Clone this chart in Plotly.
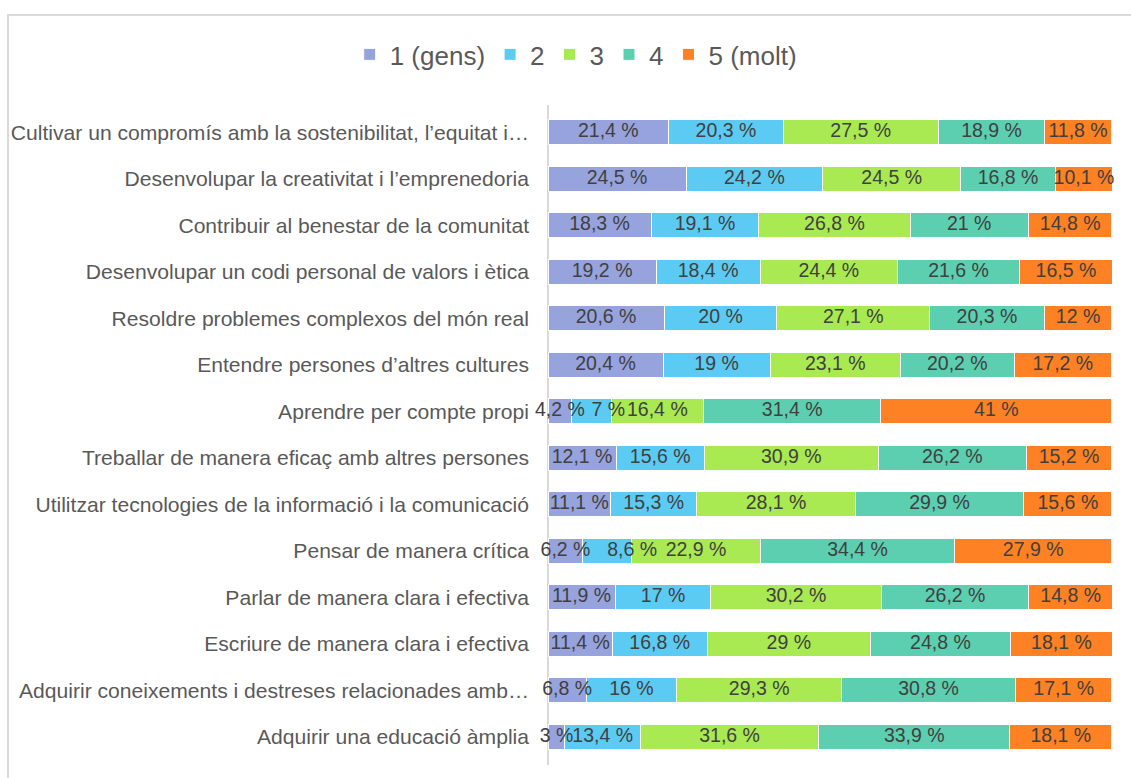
import plotly.graph_objects as go

categories = [
    "Cultivar un compromís amb la sostenibilitat, l’equitat i…",
    "Desenvolupar la creativitat i l’emprenedoria",
    "Contribuir al benestar de la comunitat",
    "Desenvolupar un codi personal de valors i ètica",
    "Resoldre problemes complexos del món real",
    "Entendre persones d’altres cultures",
    "Aprendre per compte propi",
    "Treballar de manera eficaç amb altres persones",
    "Utilitzar tecnologies de la informació i la comunicació",
    "Pensar de manera crítica",
    "Parlar de manera clara i efectiva",
    "Escriure de manera clara i efectiva",
    "Adquirir coneixements i destreses relacionades amb…",
    "Adquirir una educació àmplia",
]

series_names = ["1 (gens)", "2", "3", "4", "5 (molt)"]

s1 = [21.4, 24.5, 18.3, 19.2, 20.6, 20.4, 4.2, 12.1, 11.1, 6.2, 11.9, 11.4, 6.8, 3]
s2 = [20.3, 24.2, 19.1, 18.4, 20, 19, 7, 15.6, 15.3, 8.6, 17, 16.8, 16, 13.4]
s3 = [27.5, 24.5, 26.8, 24.4, 27.1, 23.1, 16.4, 30.9, 28.1, 22.9, 30.2, 29, 29.3, 31.6]
s4 = [18.9, 16.8, 21, 21.6, 20.3, 20.2, 31.4, 26.2, 29.9, 34.4, 26.2, 24.8, 30.8, 33.9]
s5 = [11.8, 10.1, 14.8, 16.5, 12, 17.2, 41, 15.2, 15.6, 27.9, 14.8, 18.1, 17.1, 18.1]

colors = ["#97A3DD", "#5CCBF3", "#A9E951", "#5CCFB0", "#FE8123"]


def fmt(v):
    s = ("%.1f" % v).rstrip("0").rstrip(".")
    return s.replace(".", ",") + " %"


all_series = [s1, s2, s3, s4, s5]

fig = go.Figure()
for name, vals, col in zip(series_names, all_series, colors):
    fig.add_trace(go.Bar(
        name=name,
        y=categories,
        x=vals,
        orientation="h",
        marker=dict(color=col, line=dict(color="white", width=1)),
        hoverinfo="skip",
    ))

# data labels drawn on top of all bars (as in the original), at segment centres
lab_x, lab_y, lab_t, lab_pos = [], [], [], []
for r, cat in enumerate(categories):
    start = 0.0
    prev = None
    for k, vals in enumerate(all_series):
        v = vals[r]
        lab_x.append(start + v / 2)
        lab_y.append(cat)
        lab_t.append(fmt(v))
        if prev is not None and prev < 8 and v < 10:
            lab_pos.append("middle right")
        else:
            lab_pos.append("middle center")
        prev = v
        start += v

fig.add_trace(go.Scatter(
    x=lab_x, y=lab_y, text=lab_t, mode="text",
    textposition=lab_pos,
    textfont=dict(family="Liberation Sans, Arial", size=19.5, color="#404040"),
    showlegend=False, hoverinfo="skip", cliponaxis=False,
))

L, R, T, B = 548, 1131 - 1113, 109, 778 - 760
H = 778 - T - B
n = len(categories)

fig.update_layout(
    width=1131, height=778,
    barmode="stack",
    bargap=0.46,
    paper_bgcolor="white",
    plot_bgcolor="white",
    font=dict(family="Liberation Sans, Arial", color="#595959"),
    margin=dict(l=L, r=R, t=T, b=B),
    legend=dict(
        orientation="h",
        xref="container", yref="container",
        x=0.509, xanchor="center",
        y=0.93, yanchor="middle",
        font=dict(size=26, color="#595959"),
        itemwidth=30,
        traceorder="normal",
    ),
    xaxis=dict(range=[0, 100.2], visible=False, fixedrange=True),
    yaxis=dict(
        categoryorder="array",
        categoryarray=categories,
        range=[n - 0.5, -0.5],
        autorange=False,
        automargin=False,
        showline=False,
        showgrid=False, zeroline=False,
        ticks="",
        ticklabelstandoff=18,
        tickfont=dict(size=21.1, color="#595959"),
    ),
    shapes=[
        dict(
            type="rect", xref="paper", yref="paper",
            x0=(8 - L) / 565, x1=1.2,
            y0=-0.2, y1=(778 - B - 15) / H,
            line=dict(color="#D9D9D9", width=2),
            fillcolor="rgba(0,0,0,0)",
            layer="below",
        ),
        dict(
            type="line", xref="paper", yref="paper",
            x0=0, x1=0, y0=(778 - B - 765) / H, y1=(778 - B - 105) / H,
            line=dict(color="#D9D9D9", width=2),
            layer="below",
        ),
    ],
)

fig.write_html("out.html", post_script="document.body.style.margin='0px';",
               config={"displayModeBar": False})
